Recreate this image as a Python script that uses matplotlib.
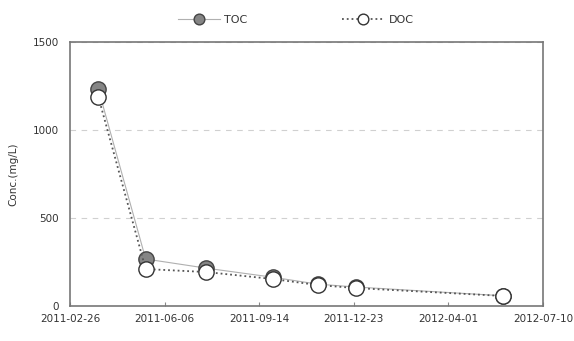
import matplotlib
matplotlib.use("Agg")
import matplotlib.pyplot as plt
import matplotlib.dates as mdates
import numpy as np
import pandas as pd

dates = pd.to_datetime(["2011-03-28", "2011-05-17", "2011-07-20", "2011-09-29",
                        "2011-11-15", "2011-12-25", "2012-05-29"])
toc = [1232, 267, 215, 163, 124, 108, 58]
doc = [1188, 210, 193, 153, 119, 102, 57]
tick_dates = pd.to_datetime(["2011-02-26", "2011-06-06", "2011-09-14",
                             "2011-12-23", "2012-04-01", "2012-07-10"])

plt.rcParams['font.family'] = ['DejaVu Sans']

fig = plt.figure(figsize=(5.74, 3.41), dpi=100)
ax = fig.add_axes([70 / 574, 35 / 341, 473 / 574, 264 / 341])

ax.plot(dates, toc, '-', color='#b0b0b0', lw=0.8, marker='o', ms=11,
        mfc='#858585', mec='#444444', mew=1.0, label='TOC', zorder=3)
ax.plot(dates, doc, ':', color='#555555', lw=1.3, marker='o', ms=11,
        mfc='white', mec='#333333', mew=1.0, label='DOC', zorder=4)

ax.set_xlim(tick_dates[0], tick_dates[-1])
ax.set_ylim(0, 1500)
ax.set_xticks(tick_dates)
ax.xaxis.set_major_formatter(mdates.DateFormatter('%Y-%m-%d'))
ax.set_yticks([0, 500, 1000, 1500])
ax.tick_params(axis='x', direction='in', length=3, color='#888888', labelsize=7.5,
               labelcolor='#333333', pad=6)
ax.tick_params(axis='y', length=0, labelsize=7.5, labelcolor='#333333', pad=8)
ax.yaxis.grid(True, linestyle=(0, (5, 5)), color='#d0d0d0', lw=0.8)
ax.set_axisbelow(True)
for s in ax.spines.values():
    s.set_color('#777777')
    s.set_linewidth(1.2)
ax.set_ylabel('Conc.(mg/L)', fontsize=7.5, color='#333333', labelpad=10)

fig.legend(loc='upper center', bbox_to_anchor=(0.515, 0.985), ncol=2, frameon=False,
           fontsize=8, columnspacing=8.5, handlelength=3.8, handletextpad=0.4,
           markerscale=0.7, labelcolor='#333333')

fig.savefig('out.png', dpi=100)
